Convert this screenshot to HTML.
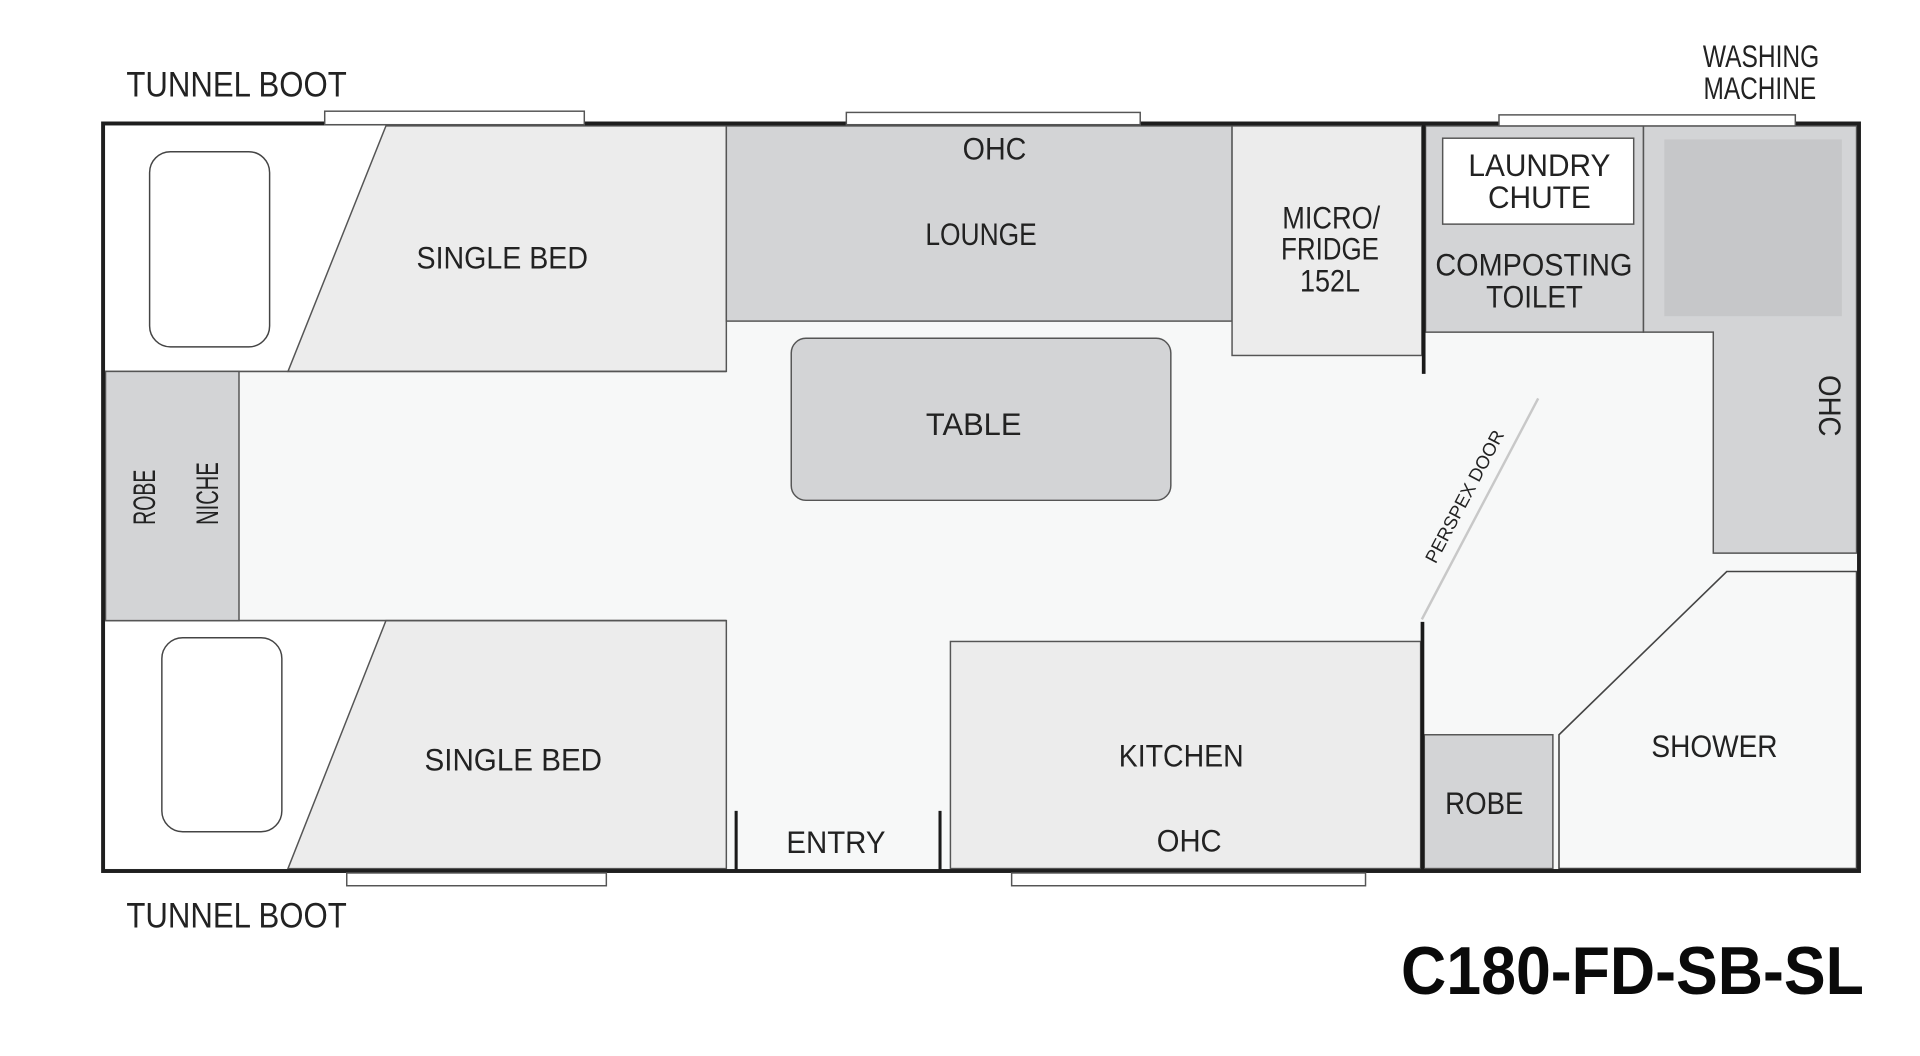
<!DOCTYPE html>
<html>
<head>
<meta charset="utf-8">
<style>
html,body{margin:0;padding:0;background:#fff;width:1920px;height:1056px;overflow:hidden}
svg{display:block}
text{font-family:"Liberation Sans",sans-serif;fill:#222;text-anchor:middle}
.l{font-size:26px}
.b{font-size:29px}
</style>
</head>
<body>
<svg width="1920" height="1056" viewBox="0.82 0.41 1568 860.3" preserveAspectRatio="none" xmlns="http://www.w3.org/2000/svg">
  <rect x="0" y="0" width="1570" height="862" fill="#ffffff"/>
  <!-- floor -->
  <rect x="85" y="101" width="1434" height="609" fill="#f7f8f8"/>

  <!-- top-left bed area -->
  <rect x="87" y="103" width="232" height="200" fill="#ffffff"/>
  <polygon points="316,103 594,103 594,303 236,303" fill="#ececec" stroke="#555" stroke-width="1.2"/>
  <line x1="85" y1="303" x2="594" y2="303" stroke="#555" stroke-width="1.3"/>
  <rect x="123" y="124" width="98" height="159" rx="17" fill="#ffffff" stroke="#444" stroke-width="1.2"/>

  <!-- bottom-left bed area -->
  <rect x="87" y="506" width="232" height="202" fill="#ffffff"/>
  <polygon points="316,506 594,506 594,708 236,708" fill="#ececec" stroke="#555" stroke-width="1.2"/>
  <line x1="85" y1="506" x2="594" y2="506" stroke="#555" stroke-width="1.3"/>
  <rect x="133" y="520" width="98" height="158" rx="17" fill="#ffffff" stroke="#444" stroke-width="1.2"/>

  <!-- robe / niche -->
  <rect x="87" y="303" width="109" height="203" fill="#d3d4d6" stroke="#555" stroke-width="1.2"/>

  <!-- lounge -->
  <rect x="594" y="103" width="413" height="159" fill="#d3d4d6" stroke="#555" stroke-width="1.2"/>
  <!-- micro fridge -->
  <rect x="1007" y="103" width="155" height="187" fill="#ececec" stroke="#555" stroke-width="1.2"/>
  <!-- table -->
  <rect x="647" y="276" width="310" height="132" rx="12" fill="#d3d4d6" stroke="#555" stroke-width="1.2"/>

  <!-- composting toilet -->
  <rect x="1165" y="103" width="178" height="168" fill="#d3d4d6" stroke="#555" stroke-width="1.2"/>
  <rect x="1179" y="113" width="156" height="70" fill="#ffffff" stroke="#555" stroke-width="1.2"/>
  <!-- washing machine / OHC -->
  <polygon points="1343,103 1517,103 1517,451 1400,451 1400,271 1343,271" fill="#d3d4d6" stroke="#555" stroke-width="1.2"/>
  <rect x="1360" y="114" width="145" height="144" fill="#c6c7c9"/>

  <!-- shower -->
  <polygon points="1274,708 1274,599 1411,466 1517,466 1517,708" fill="#f7f8f8" stroke="#444" stroke-width="1.3"/>
  <!-- robe right -->
  <rect x="1164" y="599" width="105" height="109" fill="#d3d4d6" stroke="#555" stroke-width="1.2"/>
  <!-- kitchen -->
  <rect x="777" y="523" width="384" height="185" fill="#ececec" stroke="#555" stroke-width="1.2"/>

  <!-- interior walls -->
  <line x1="1163.5" y1="101" x2="1163.5" y2="305" stroke="#1a1a1a" stroke-width="3"/>
  <line x1="1162.5" y1="507" x2="1162.5" y2="710" stroke="#1a1a1a" stroke-width="3"/>
  <line x1="602" y1="661" x2="602" y2="710" stroke="#1a1a1a" stroke-width="2.5"/>
  <line x1="768.5" y1="661" x2="768.5" y2="710" stroke="#1a1a1a" stroke-width="2.5"/>
  <!-- perspex door -->
  <line x1="1257" y1="325" x2="1162" y2="505" stroke="#c8c8c8" stroke-width="2"/>

  <!-- outer wall -->
  <rect x="85" y="101" width="1434" height="609" fill="none" stroke="#1e1e1e" stroke-width="3.2"/>

  <!-- windows -->
  <rect x="266" y="91" width="212" height="11" fill="#ffffff" stroke="#555" stroke-width="1.2"/>
  <rect x="692" y="92" width="240" height="10" fill="#ffffff" stroke="#555" stroke-width="1.2"/>
  <rect x="1225" y="94" width="242" height="9" fill="#ffffff" stroke="#555" stroke-width="1.2"/>
  <rect x="284" y="711.6" width="212" height="10.4" fill="#ffffff" stroke="#555" stroke-width="1.2"/>
  <rect x="827" y="711.6" width="289" height="10.4" fill="#ffffff" stroke="#555" stroke-width="1.2"/>

  <!-- labels -->
  <text class="b" x="194" y="79" textLength="180" lengthAdjust="spacingAndGlyphs">TUNNEL BOOT</text>
  <text class="b" x="194" y="756" textLength="180" lengthAdjust="spacingAndGlyphs">TUNNEL BOOT</text>

  <text class="l" x="411" y="219" textLength="140" lengthAdjust="spacingAndGlyphs">SINGLE BED</text>
  <text class="l" x="420" y="628" textLength="145" lengthAdjust="spacingAndGlyphs">SINGLE BED</text>

  <text class="l" x="813" y="130.5" textLength="52" lengthAdjust="spacingAndGlyphs">OHC</text>
  <text class="l" x="802" y="200" textLength="91" lengthAdjust="spacingAndGlyphs">LOUNGE</text>

  <text class="l" x="1088" y="186.5" textLength="80" lengthAdjust="spacingAndGlyphs">MICRO/</text>
  <text class="l" x="1087" y="212" textLength="80" lengthAdjust="spacingAndGlyphs">FRIDGE</text>
  <text class="l" x="1087" y="238" textLength="49" lengthAdjust="spacingAndGlyphs">152L</text>

  <text class="l" x="796" y="355" textLength="78" lengthAdjust="spacingAndGlyphs">TABLE</text>

  <text class="l" x="1258" y="144" textLength="116" lengthAdjust="spacingAndGlyphs">LAUNDRY</text>
  <text class="l" x="1258" y="170" textLength="84" lengthAdjust="spacingAndGlyphs">CHUTE</text>
  <text class="l" x="1253.5" y="225" textLength="161" lengthAdjust="spacingAndGlyphs">COMPOSTING</text>
  <text class="l" x="1254" y="251" textLength="79" lengthAdjust="spacingAndGlyphs">TOILET</text>

  <text class="l" x="1439" y="55" textLength="95" lengthAdjust="spacingAndGlyphs">WASHING</text>
  <text class="l" x="1438" y="81" textLength="92" lengthAdjust="spacingAndGlyphs">MACHINE</text>

  <text class="l" transform="translate(1486.5,331) rotate(90)" x="0" y="0" textLength="50" lengthAdjust="spacingAndGlyphs">OHC</text>
  <text class="l" transform="translate(127.5,405.5) rotate(-90)" x="0" y="0" textLength="45" lengthAdjust="spacingAndGlyphs">ROBE</text>
  <text class="l" transform="translate(179,402.5) rotate(-90)" x="0" y="0" textLength="51" lengthAdjust="spacingAndGlyphs">NICHE</text>

  <text transform="translate(1201.4,407.3) rotate(-62)" x="0" y="0" font-size="15" textLength="120" lengthAdjust="spacingAndGlyphs">PERSPEX DOOR</text>

  <text class="l" x="965.5" y="625" textLength="102" lengthAdjust="spacingAndGlyphs">KITCHEN</text>
  <text class="l" x="972" y="694" textLength="53" lengthAdjust="spacingAndGlyphs">OHC</text>
  <text class="l" x="683.5" y="695.5" textLength="81" lengthAdjust="spacingAndGlyphs">ENTRY</text>
  <text class="l" x="1213" y="663.5" textLength="64" lengthAdjust="spacingAndGlyphs">ROBE</text>
  <text class="l" x="1401" y="617" textLength="103" lengthAdjust="spacingAndGlyphs">SHOWER</text>

  <text x="1334" y="810" font-size="55" font-weight="bold" style="fill:#0a0a0a" textLength="378" lengthAdjust="spacingAndGlyphs">C180-FD-SB-SL</text>
</svg>
</body>
</html>
